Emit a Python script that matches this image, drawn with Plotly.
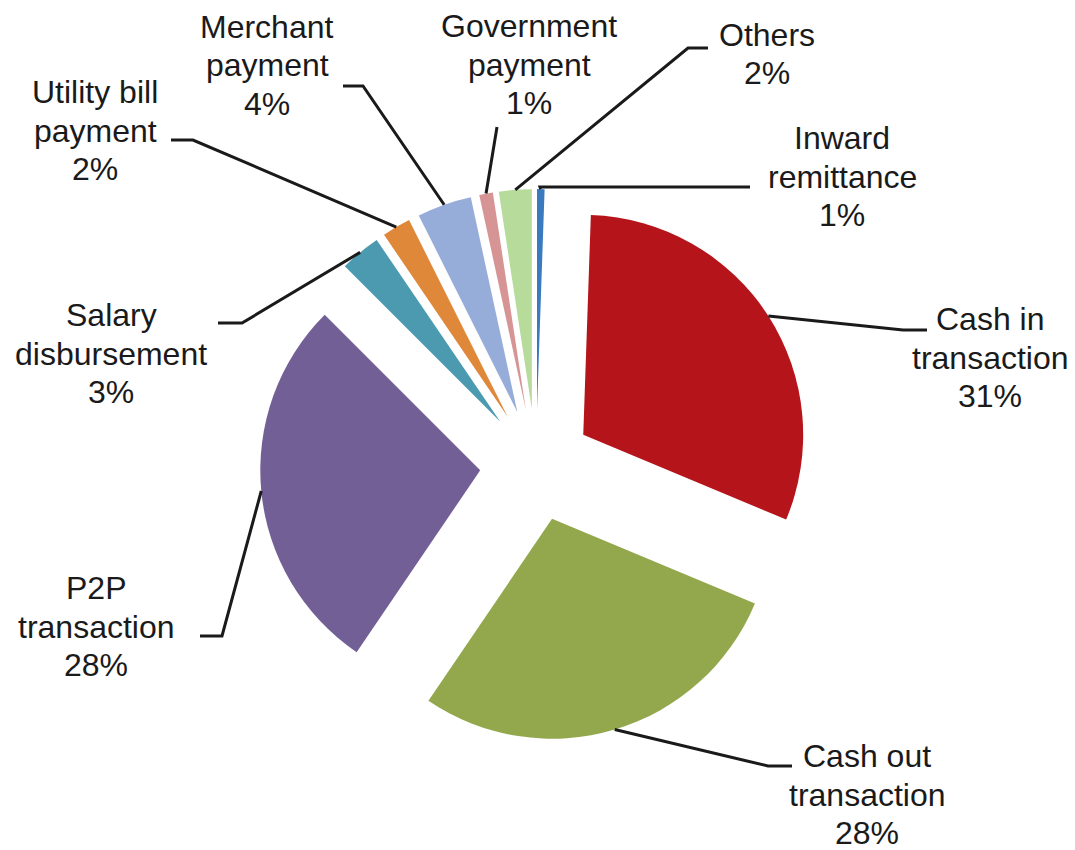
import math
import plotly.graph_objects as go

# ---------------- data ----------------
categories = ["Inward remittance", "Cash in transaction", "Cash out transaction",
              "P2P transaction", "Salary disbursement", "Utility bill payment",
              "Merchant payment", "Government payment", "Others"]
label_lines = [["Inward", "remittance"], ["Cash in", "transaction"], ["Cash out", "transaction"],
               ["P2P", "transaction"], ["Salary", "disbursement"], ["Utility bill", "payment"],
               ["Merchant", "payment"], ["Government", "payment"], ["Others"]]
values = [0.55, 30.75, 28.2, 28.0, 3.0, 2.1, 4.0, 1.0, 2.4]

# ---------------- styles / layout ----------------
colors = ["#3A7BBF", "#B5141A", "#93A84D", "#715F96", "#4B9AB0",
          "#E0883A", "#97ADD9", "#D69594", "#B6DB9A"]
W, H = 1075, 850
PULL = 0.255
DOM_X = [0.2419, 0.7554]
DOM_Y = [0.1282, 0.7776]
FONT = "Liberation Sans, Arial, sans-serif"
FSIZE = 32
LINE_GAP = 38.5

# label text layout (center x px, first baseline px)
label_pos = [(842, 148), (990, 329), (867, 766), (96, 598), (111, 325),
             (95, 102), (267, 37), (529, 36), (767, 45)]
# leader line layout points (label end, elbow) in px
leader_pts = [[(750, 187), (540, 187)], [(927, 330), (903, 330)], [(792, 766), (768, 766)],
              [(200, 636), (222, 636)], [(218, 323), (242, 323)], [(171, 140), (193, 140)],
              [(343, 86), (363, 86)], [(497, 127)], [(708, 48), (688, 48)]]

fig = go.Figure(go.Pie(
    labels=categories, values=values, sort=False, direction="clockwise", rotation=0,
    pull=[PULL] * len(values), marker=dict(colors=colors, line=dict(width=0)),
    textinfo="none", hoverinfo="label+percent", domain=dict(x=DOM_X, y=DOM_Y),
))

# pie geometry as plotly computes it
vpw = W * (DOM_X[1] - DOM_X[0])
vph = H * (DOM_Y[1] - DOM_Y[0])
R = min(vpw, vph) / (2 + 2 * PULL)
CX = W * (DOM_X[0] + DOM_X[1]) / 2
CY = H * (1 - (DOM_Y[0] + DOM_Y[1]) / 2)

def px2paper(x, y):
    return x / W, 1 - y / H

total = sum(values)
cum = 0.0
shapes = []
annotations = []
for i, v in enumerate(values):
    mid = 2 * math.pi * (cum + v / 2) / total
    cum += v
    ex = CX + R * (1 + PULL) * math.sin(mid)
    ey = CY - R * (1 + PULL) * math.cos(mid)
    pts = leader_pts[i] + [(ex, ey)]
    path = ""
    for j, (px, py) in enumerate(pts):
        xp, yp = px2paper(px, py)
        path += ("M" if j == 0 else " L") + f" {xp:.5f} {yp:.5f}"
    shapes.append(dict(type="path", path=path, xref="paper", yref="paper",
                       line=dict(color="#1a1a1a", width=3)))
    pct = int(v / total * 100 + 0.5)
    lines = label_lines[i] + [f"{pct}%"]
    lx, lb = label_pos[i]
    for k, txt in enumerate(lines):
        base = lb + k * LINE_GAP
        xp, yp = px2paper(lx, base - 10)
        annotations.append(dict(text=txt, x=xp, y=yp, xref="paper", yref="paper",
                                xanchor="center", yanchor="middle", showarrow=False,
                                font=dict(family=FONT, size=FSIZE, color="#1a1a1a")))

fig.update_layout(width=W, height=H, margin=dict(l=0, r=0, t=0, b=0),
                  paper_bgcolor="white", plot_bgcolor="white", showlegend=False,
                  shapes=shapes, annotations=annotations)
fig.write_html("out.html")
